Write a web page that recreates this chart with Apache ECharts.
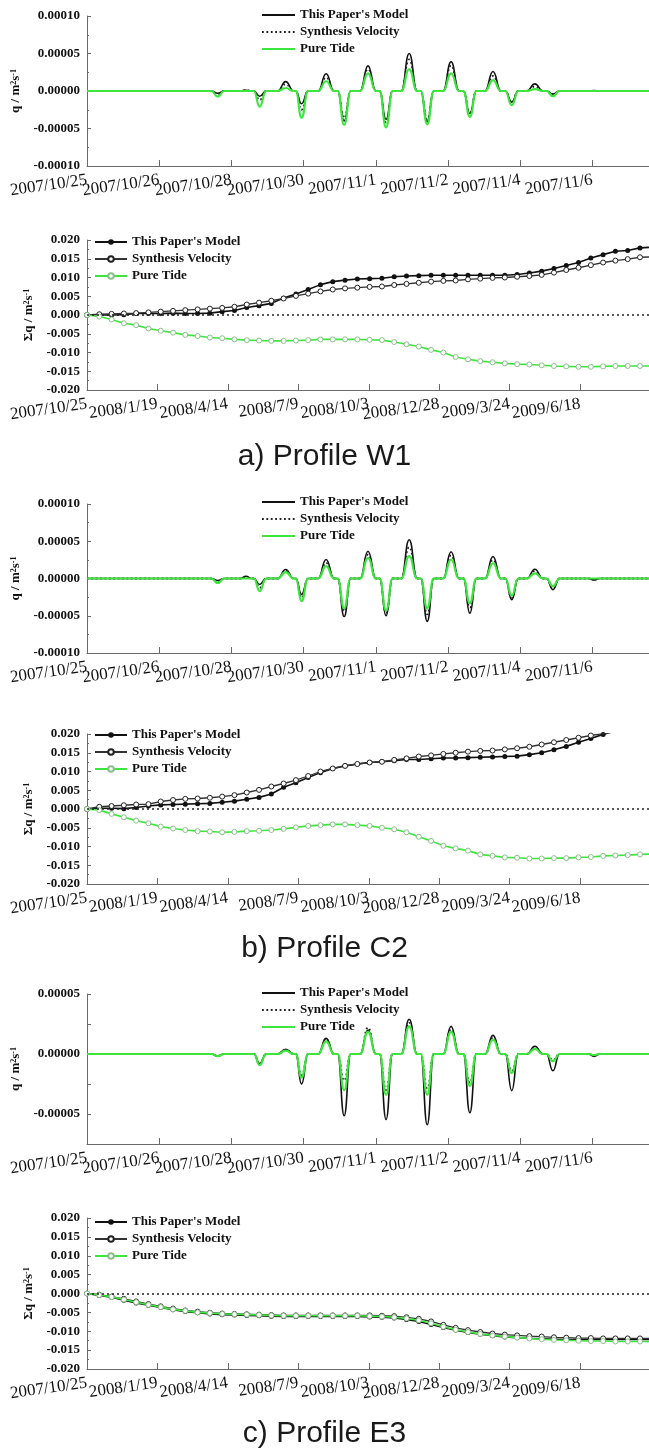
<!DOCTYPE html>
<html><head><meta charset="utf-8">
<script src="https://cdn.jsdelivr.net/npm/echarts@6/dist/echarts.min.js"></script>
<style>html,body{margin:0;padding:0;background:#fff}#c{width:649px;height:1453px}</style>
</head><body><div id="c"></div>
<script>
// ---------- tick labels ----------
const qTickLabels = ['2007/10/25','2007/10/26','2007/10/28','2007/10/30','2007/11/1','2007/11/2','2007/11/4','2007/11/6'];
const cumTickLabels = ['2007/10/25','2008/1/19','2008/4/14','2008/7/9','2008/10/3','2008/12/28','2009/3/24','2009/6/18'];

// ---------- q panels (x in tick-interval units) ----------
// positions of each flux extreme, and of the points where the curves sit on zero
const qEventX = [1.81, 2.20, 2.39, 2.75, 2.97, 3.31, 3.56, 3.89, 4.14, 4.46, 4.71, 5.04, 5.30, 5.62, 5.88, 6.20, 6.45, 7.02];
const qZeroX = [0, 1.72, 1.90, 2.12, 2.28, 2.31, 2.48, 2.64, 2.86, 2.89, 3.06, 3.20, 3.42, 3.47, 3.65, 3.78, 4.00, 4.05, 4.23, 4.35, 4.57, 4.62, 4.80, 4.93, 5.15, 5.21, 5.39, 5.51, 5.73, 5.79, 5.97, 6.09, 6.31, 6.36, 6.54, 6.94, 7.10, 7.78];
// extreme values, in units of 1e-5 m2/s
const w1ModelE5 = [-0.3, 0.1, -0.7, 1.25, -1.7, 2.3, -4.0, 3.35, -3.8, 5.0, -4.1, 3.9, -3.0, 2.6, -1.45, 0.95, -0.4, 0.05];
const w1SynE5   = [-0.4, 0.1, -1.2, 0.9, -2.5, 1.8, -3.6, 2.9, -4.2, 4.2, -3.8, 3.4, -2.9, 2.0, -1.5, 0.6, -0.5, 0];
const w1TideE5  = [-0.75, 0, -2.1, 0.4, -3.55, 1.3, -4.5, 2.35, -4.85, 2.9, -4.45, 2.35, -3.45, 1.45, -1.9, 0.25, -0.7, 0];
const c2ModelE5 = [-0.27, 0.3, -0.8, 1.2, -2.15, 2.55, -5.1, 3.65, -5.0, 5.2, -5.75, 3.6, -4.65, 2.95, -2.85, 1.25, -1.5, -0.2];
const c2SynE5   = [-0.4, 0.2, -1.25, 1.05, -2.6, 2.1, -4.4, 3.2, -4.6, 4.2, -4.8, 3.1, -3.9, 2.5, -2.6, 1.0, -1.3, -0.1];
const c2TideE5  = [-0.6, 0, -1.7, 0.85, -3.05, 1.65, -4.0, 2.75, -4.3, 3.0, -4.0, 2.55, -3.3, 2.05, -2.3, 0.7, -1.05, 0];
const e3ModelE5 = [-0.17, 0, -0.8, 0.4, -2.5, 1.3, -5.15, 2.0, -5.45, 2.9, -5.9, 2.3, -4.9, 1.55, -3.05, 0.65, -1.4, -0.2];
const e3SynE5   = [-0.15, 0, -0.85, 0.35, -1.75, 1.25, -2.2, 2.2, -3.0, 2.6, -2.85, 2.05, -2.4, 1.35, -1.4, 0.5, -0.5, -0.1];
const e3TideE5  = [-0.17, 0, -0.92, 0.28, -1.95, 1.05, -3.0, 1.85, -3.4, 2.3, -3.4, 1.85, -2.65, 1.2, -1.6, 0.42, -0.6, -0.1];

// ---------- cumulative panels (x in days since 2007/10/25) ----------
const cumDays = [0,15,30,45,60,75,90,105,120,135,150,165,180,195,210,225,240,255,270,285,300,315,330,345,360,375,390,405,420,435,450,465,480,495,510,525,540,555,570,585,600,615,630,645,660,675,690];
const w1CumModel = [0,0,0,0.0001,0.0004,0.0004,0.0004,0.0005,0.0004,0.0004,0.0005,0.0009,0.0012,0.0020,0.0025,0.0031,0.0045,0.0056,0.0068,0.0081,0.0089,0.0093,0.0096,0.0097,0.0098,0.0102,0.0104,0.0105,0.0106,0.0106,0.0106,0.0106,0.0106,0.0106,0.0106,0.0108,0.0112,0.0117,0.0124,0.0132,0.0140,0.0152,0.0161,0.0170,0.0172,0.0179,0.0181];
const w1CumSyn   = [0,0.0002,0.0003,0.0004,0.0005,0.0007,0.0009,0.0011,0.0013,0.0015,0.0017,0.0019,0.0022,0.0028,0.0033,0.0038,0.0044,0.0051,0.0057,0.0063,0.0068,0.0071,0.0073,0.0075,0.0076,0.0080,0.0083,0.0086,0.0089,0.0091,0.0092,0.0095,0.0097,0.0099,0.0100,0.0102,0.0104,0.0107,0.0113,0.0120,0.0126,0.0133,0.0140,0.0145,0.0149,0.0154,0.0155];
const w1CumTide  = [0,-0.0004,-0.0012,-0.0022,-0.0027,-0.0036,-0.0042,-0.0047,-0.0053,-0.0056,-0.0060,-0.0062,-0.0065,-0.0067,-0.0068,-0.0069,-0.0069,-0.0068,-0.0067,-0.0065,-0.0065,-0.0065,-0.0065,-0.0066,-0.0067,-0.0072,-0.0078,-0.0084,-0.0093,-0.0100,-0.0112,-0.0118,-0.0123,-0.0126,-0.0129,-0.0131,-0.0132,-0.0134,-0.0136,-0.0137,-0.0138,-0.0138,-0.0137,-0.0136,-0.0136,-0.0136,-0.0136];
const c2CumModel = [0,0.0002,0.0002,0.0001,0.0004,0.0008,0.0011,0.0012,0.0013,0.0014,0.0015,0.0018,0.0021,0.0026,0.0031,0.0040,0.0058,0.0070,0.0084,0.0097,0.0108,0.0115,0.0120,0.0124,0.0126,0.0129,0.0132,0.0132,0.0134,0.0136,0.0136,0.0137,0.0138,0.0139,0.0140,0.0141,0.0145,0.0150,0.0158,0.0167,0.0178,0.0188,0.0199,0.0208,0.0216,0.0224,0.0232];
const c2CumSyn   = [0,0.0006,0.0008,0.0010,0.0012,0.0013,0.0020,0.0024,0.0027,0.0028,0.0030,0.0033,0.0037,0.0044,0.0051,0.0060,0.0068,0.0077,0.0088,0.0100,0.0108,0.0115,0.0120,0.0124,0.0126,0.0131,0.0135,0.0140,0.0143,0.0147,0.0150,0.0153,0.0155,0.0156,0.0159,0.0162,0.0166,0.0172,0.0178,0.0184,0.0190,0.0196,0.0201,0.0206,0.0212,0.0218,0.0224];
const c2CumTide  = [0,-0.0003,-0.0013,-0.0022,-0.0031,-0.0038,-0.0047,-0.0052,-0.0056,-0.0059,-0.0060,-0.0062,-0.0061,-0.0059,-0.0058,-0.0056,-0.0053,-0.0049,-0.0045,-0.0043,-0.0041,-0.0041,-0.0043,-0.0045,-0.0050,-0.0054,-0.0062,-0.0074,-0.0085,-0.0098,-0.0105,-0.0111,-0.0121,-0.0125,-0.0129,-0.0130,-0.0132,-0.0132,-0.0131,-0.0131,-0.0129,-0.0128,-0.0125,-0.0124,-0.0123,-0.0121,-0.0120];
const e3CumModel = [0,-0.0005,-0.0010,-0.0018,-0.0025,-0.0031,-0.0037,-0.0043,-0.0048,-0.0051,-0.0054,-0.0056,-0.0057,-0.0058,-0.0059,-0.0060,-0.0061,-0.0061,-0.0061,-0.0061,-0.0061,-0.0061,-0.0061,-0.0062,-0.0063,-0.0065,-0.0069,-0.0074,-0.0082,-0.0090,-0.0097,-0.0103,-0.0108,-0.0112,-0.0115,-0.0117,-0.0119,-0.0120,-0.0121,-0.0122,-0.0122,-0.0122,-0.0122,-0.0122,-0.0122,-0.0122,-0.0122];
const e3CumSyn   = [0,-0.0003,-0.0008,-0.0014,-0.0021,-0.0028,-0.0034,-0.0040,-0.0045,-0.0048,-0.0051,-0.0053,-0.0054,-0.0055,-0.0056,-0.0057,-0.0058,-0.0058,-0.0058,-0.0058,-0.0058,-0.0058,-0.0058,-0.0058,-0.0059,-0.0060,-0.0063,-0.0067,-0.0074,-0.0083,-0.0091,-0.0097,-0.0102,-0.0106,-0.0109,-0.0111,-0.0113,-0.0114,-0.0116,-0.0117,-0.0118,-0.0118,-0.0119,-0.0119,-0.0119,-0.0119,-0.0119];
const e3CumTide  = [0,-0.0004,-0.0009,-0.0016,-0.0023,-0.0030,-0.0036,-0.0042,-0.0046,-0.0050,-0.0052,-0.0054,-0.0055,-0.0056,-0.0057,-0.0058,-0.0059,-0.0059,-0.0059,-0.0059,-0.0059,-0.0059,-0.0059,-0.0060,-0.0061,-0.0063,-0.0066,-0.0071,-0.0079,-0.0088,-0.0096,-0.0102,-0.0107,-0.0111,-0.0114,-0.0117,-0.0119,-0.0121,-0.0123,-0.0124,-0.0125,-0.0126,-0.0126,-0.0127,-0.0127,-0.0127,-0.0127];

const captions = ['a) Profile W1', 'b) Profile C2', 'c) Profile E3'];

// ---------- build ----------
const SERIF = '"Liberation Serif", "Times New Roman", serif';
const NAMES = {qM:"This Paper's Model", qS:'Synthesis Velocity', qT:'Pure Tide', cM:"This Paper's Model", cS:'Synthesis Velocity', cT:'Pure Tide'};
const GREEN = '#3de63d';
const AX = '#6a6a6a';

function qData(valsE5) {
  const pts = qZeroX.map(x => [x, 0]);
  qEventX.forEach((x, i) => pts.push([x, valsE5[i] * 1e-5]));
  pts.sort((a, b) => a[0] - b[0]);
  return pts;
}
function cumData(vals) { return cumDays.map((d, i) => [d, vals[i]]); }

const layout = [
  {top: 16, height: 150, kind: 'q'},
  {top: 240, height: 150, kind: 'c'},
  {top: 504, height: 149, kind: 'q'},
  {top: 734, height: 150, kind: 'c'},
  {top: 994, height: 150, kind: 'q3'},
  {top: 1218, height: 151, kind: 'c'}
];
const grid = layout.map(g => ({left: 87, right: 0, top: g.top, height: g.height, containLabel: false, outerBoundsMode: 'none'}));

const baseAxis = {
  axisLine: {show: true, onZero: false, lineStyle: {color: AX, width: 1}},
  splitLine: {show: false}
};

// per grid: one data axis (line + ticks) and two label-only axes (even / odd tick labels)
const xAxis = [];
layout.forEach((g, i) => {
  const isQ = g.kind !== 'c';
  const scale = {type: 'value', gridIndex: i, position: 'bottom', offset: 0, min: 0, max: isQ ? 7.78 : 686, interval: isQ ? 1 : 86};
  const arr = isQ ? qTickLabels : cumTickLabels;
  const labelFor = parity => v => {
    const k = isQ ? v : v / 86;
    const r = Math.round(k);
    if (Math.abs(k - r) > 1e-6 || !arr[r] || r % 2 !== parity) return '';
    return arr[r];
  };
  xAxis.push(Object.assign({}, baseAxis, scale, {
    axisTick: {show: true, inside: true, length: 6, lineStyle: {color: AX}},
    axisLabel: {show: false}
  }));
  [0, 1].forEach(parity => {
    xAxis.push(Object.assign({}, scale, {
      axisLine: {show: false, onZero: false}, axisTick: {show: false}, splitLine: {show: false},
      axisLabel: {rotate: 8, margin: 14, fontFamily: SERIF, fontSize: 17, color: '#111',
        showMaxLabel: false, formatter: labelFor(parity)}
    }));
  });
});

const nameRich = {
  t: {fontFamily: SERIF, fontSize: 13, fontWeight: 'bold', color: '#111'},
  s: {fontFamily: SERIF, fontSize: 8, fontWeight: 'bold', color: '#111', verticalAlign: 'top'}
};
const yAxis = layout.map((g, i) => {
  const a = Object.assign({}, baseAxis, {
    type: 'value', gridIndex: i, position: 'left',
    nameLocation: 'middle', nameRotate: 90,
    nameTextStyle: {rich: nameRich},
    axisTick: {show: true, inside: true, length: 4, lineStyle: {color: AX}},
    minorTick: {show: g.kind !== 'q3', splitNumber: 2, length: 2, lineStyle: {color: AX}},
    axisLabel: {fontFamily: SERIF, fontSize: 13, fontWeight: 'bold', color: '#111', margin: 7, showMinLabel: true, showMaxLabel: true}
  });
  if (g.kind === 'q') {
    Object.assign(a, {min: -0.0001, max: 0.0001, interval: 0.00005, name: '{t|q / m}{s|2}{t|s}{s|-1}', nameGap: 56});
    a.axisLabel.formatter = v => (Math.abs(v) < 1e-12 ? 0 : v).toFixed(5);
  } else if (g.kind === 'q3') {
    Object.assign(a, {min: -0.000075, max: 0.00005, interval: 0.000025, name: '{t|q / m}{s|2}{t|s}{s|-1}', nameGap: 56});
    a.axisLabel.formatter = v => {
      const k = v / 0.00005;
      if (Math.abs(k - Math.round(k)) > 1e-6) return '';
      return (Math.abs(v) < 1e-12 ? 0 : v).toFixed(5);
    };
  } else {
    Object.assign(a, {min: -0.02, max: 0.02, interval: 0.005, name: '{t|Σq / m}{s|2}{t|s}{s|-1}', nameGap: 48});
    a.axisLabel.formatter = v => (Math.abs(v) < 1e-12 ? 0 : v).toFixed(3);
  }
  return a;
});

function qSeries(i, m, s, t) {
  const common = {type: 'line', xAxisIndex: 3 * i, yAxisIndex: i, smooth: 0.5, smoothMonotone: 'x', symbol: 'none', animation: false, silent: true};
  return [
    Object.assign({}, common, {name: 'qM', data: qData(m), z: 2, lineStyle: {color: '#111', width: 1.6}, itemStyle: {color: '#111'}}),
    Object.assign({}, common, {name: 'qS', data: qData(s), z: 3, lineStyle: {color: '#222', width: 1.8, type: [1.8, 2.6]}, itemStyle: {color: '#222'}}),
    Object.assign({}, common, {name: 'qT', data: qData(t), z: 4, lineStyle: {color: GREEN, width: 2.2}, itemStyle: {color: GREEN}})
  ];
}
function cSeries(i, m, s, t) {
  const common = {type: 'line', xAxisIndex: 3 * i, yAxisIndex: i, symbol: 'circle', symbolSize: 5, showSymbol: true, animation: false, silent: true, clip: true};
  return [
    Object.assign({}, common, {name: 'cM', data: cumData(m), z: 2, lineStyle: {color: '#111', width: 1.6}, itemStyle: {color: '#111'},
      markLine: {silent: true, symbol: ['none', 'none'], label: {show: false}, animation: false,
        lineStyle: {color: '#222', type: [2, 3], width: 1.5}, data: [{yAxis: 0}]}}),
    Object.assign({}, common, {name: 'cS', data: cumData(s), z: 3, lineStyle: {color: '#333', width: 1.3}, itemStyle: {color: '#fff', borderColor: '#222', borderWidth: 1}}),
    Object.assign({}, common, {name: 'cT', data: cumData(t), z: 4, lineStyle: {color: GREEN, width: 1.6}, itemStyle: {color: '#fff', borderColor: '#8cbf8c', borderWidth: 1}})
  ];
}

const series = [].concat(
  qSeries(0, w1ModelE5, w1SynE5, w1TideE5),
  cSeries(1, w1CumModel, w1CumSyn, w1CumTide),
  qSeries(2, c2ModelE5, c2SynE5, c2TideE5),
  cSeries(3, c2CumModel, c2CumSyn, c2CumTide),
  qSeries(4, e3ModelE5, e3SynE5, e3TideE5),
  cSeries(5, e3CumModel, e3CumSyn, e3CumTide)
);

const legendBase = {orient: 'vertical', selectedMode: false, itemHeight: 7, itemGap: 3, padding: 0,
  formatter: n => NAMES[n], textStyle: {fontFamily: SERIF, fontSize: 13, fontWeight: 'bold', color: '#111', lineHeight: 14}};
const qLegendExtra = {itemWidth: 33, itemStyle: {color: 'rgba(0,0,0,0)', borderColor: 'rgba(0,0,0,0)', borderWidth: 0, opacity: 0}};
const legend = [
  Object.assign({}, legendBase, qLegendExtra, {data: ['qM', 'qS', 'qT'], left: 261, top: 8}),
  Object.assign({}, legendBase, {data: ['cM', 'cS', 'cT'], left: 94, top: 235, itemWidth: 32}),
  Object.assign({}, legendBase, qLegendExtra, {data: ['qM', 'qS', 'qT'], left: 261, top: 495}),
  Object.assign({}, legendBase, {data: ['cM', 'cS', 'cT'], left: 94, top: 728, itemWidth: 32}),
  Object.assign({}, legendBase, qLegendExtra, {data: ['qM', 'qS', 'qT'], left: 261, top: 986}),
  Object.assign({}, legendBase, {data: ['cM', 'cS', 'cT'], left: 94, top: 1215, itemWidth: 32})
];

const captionTops = [442, 934, 1419];
const graphic = captions.map((c, i) => ({type: 'text', left: 'center', top: captionTops[i], silent: true,
  style: {text: c, font: '30px "Liberation Sans", Arial, sans-serif', fill: '#1a1a1a'}}));

const chart = echarts.init(document.getElementById('c'), null, {renderer: 'canvas'});
chart.setOption({animation: false, backgroundColor: '#fff', grid, xAxis, yAxis, legend, series, graphic});
</script></body></html>
